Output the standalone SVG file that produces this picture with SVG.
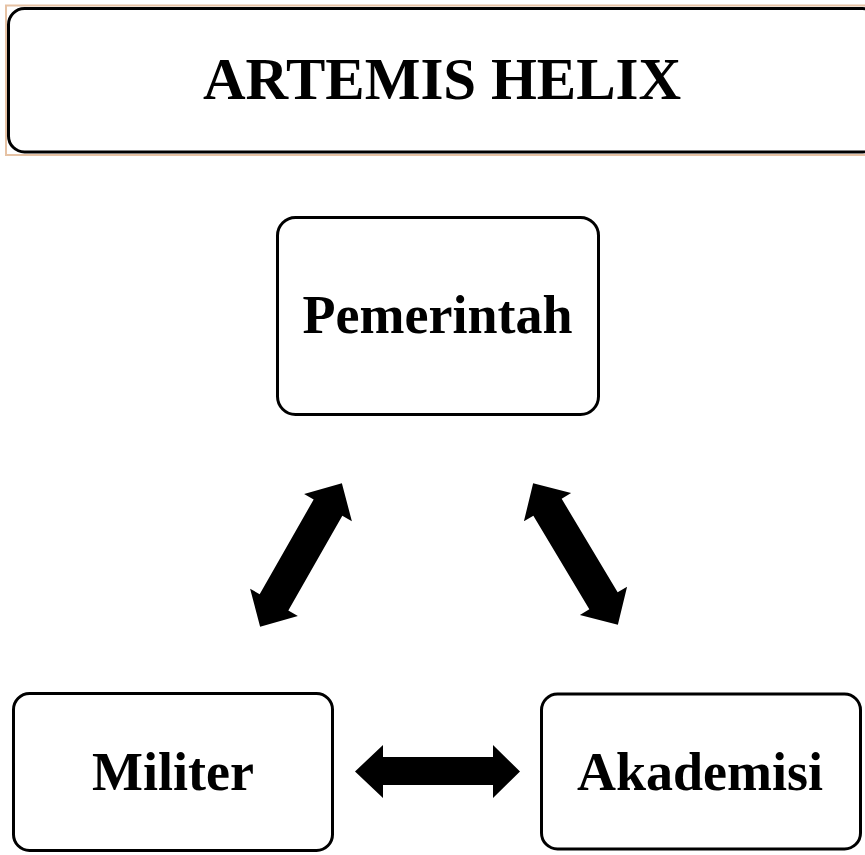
<svg xmlns="http://www.w3.org/2000/svg" width="865" height="855" viewBox="0 0 865 855">
<style>
.box{fill:#fff;stroke:#000;stroke-width:3}
.lbl{font-family:"Liberation Serif","Times New Roman",serif;font-weight:bold;fill:#000;text-anchor:middle}
.arr{fill:#000}
</style>
<defs>
<polygon id="dbl" points="-82.5,0 -54.5,-27.5 -54.5,-16.5 54.5,-16.5 54.5,-27.5 82.5,0 54.5,27.5 54.5,16.5 -54.5,16.5 -54.5,27.5"/>
</defs>
<rect width="865" height="855" fill="#fff"/>
<g id="title">
<rect x="6" y="5.5" width="870" height="149.5" fill="none" stroke="#e6c2a4" stroke-width="2"/>
<rect class="box" x="8.5" y="8.5" width="870" height="143.5" rx="16"/>
<text class="lbl" x="442" y="99" font-size="59">ARTEMIS HELIX</text>
</g>
<g id="pemerintah">
<rect class="box" x="277.5" y="217.5" width="321" height="197" rx="18"/>
<text class="lbl" x="437.5" y="333" font-size="54">Pemerintah</text>
</g>
<g id="militer">
<rect class="box" x="13.5" y="693.5" width="319" height="157" rx="16"/>
<text class="lbl" x="173" y="790" font-size="54">Militer</text>
</g>
<g id="akademisi">
<rect class="box" x="541.5" y="694" width="319" height="155" rx="16"/>
<text class="lbl" x="700" y="790" font-size="54">Akademisi</text>
</g>
<g id="connectors" class="arr">
<polygon points="355,771.5 383,745 383,757 493,757 493,745 520,771.5 493,798 493,785 383,785 383,798"/>
<use href="#dbl" transform="translate(301,555) rotate(-60.3)"/>
<use href="#dbl" transform="translate(575.5,554) rotate(59.1)"/>
</g>
</svg>
